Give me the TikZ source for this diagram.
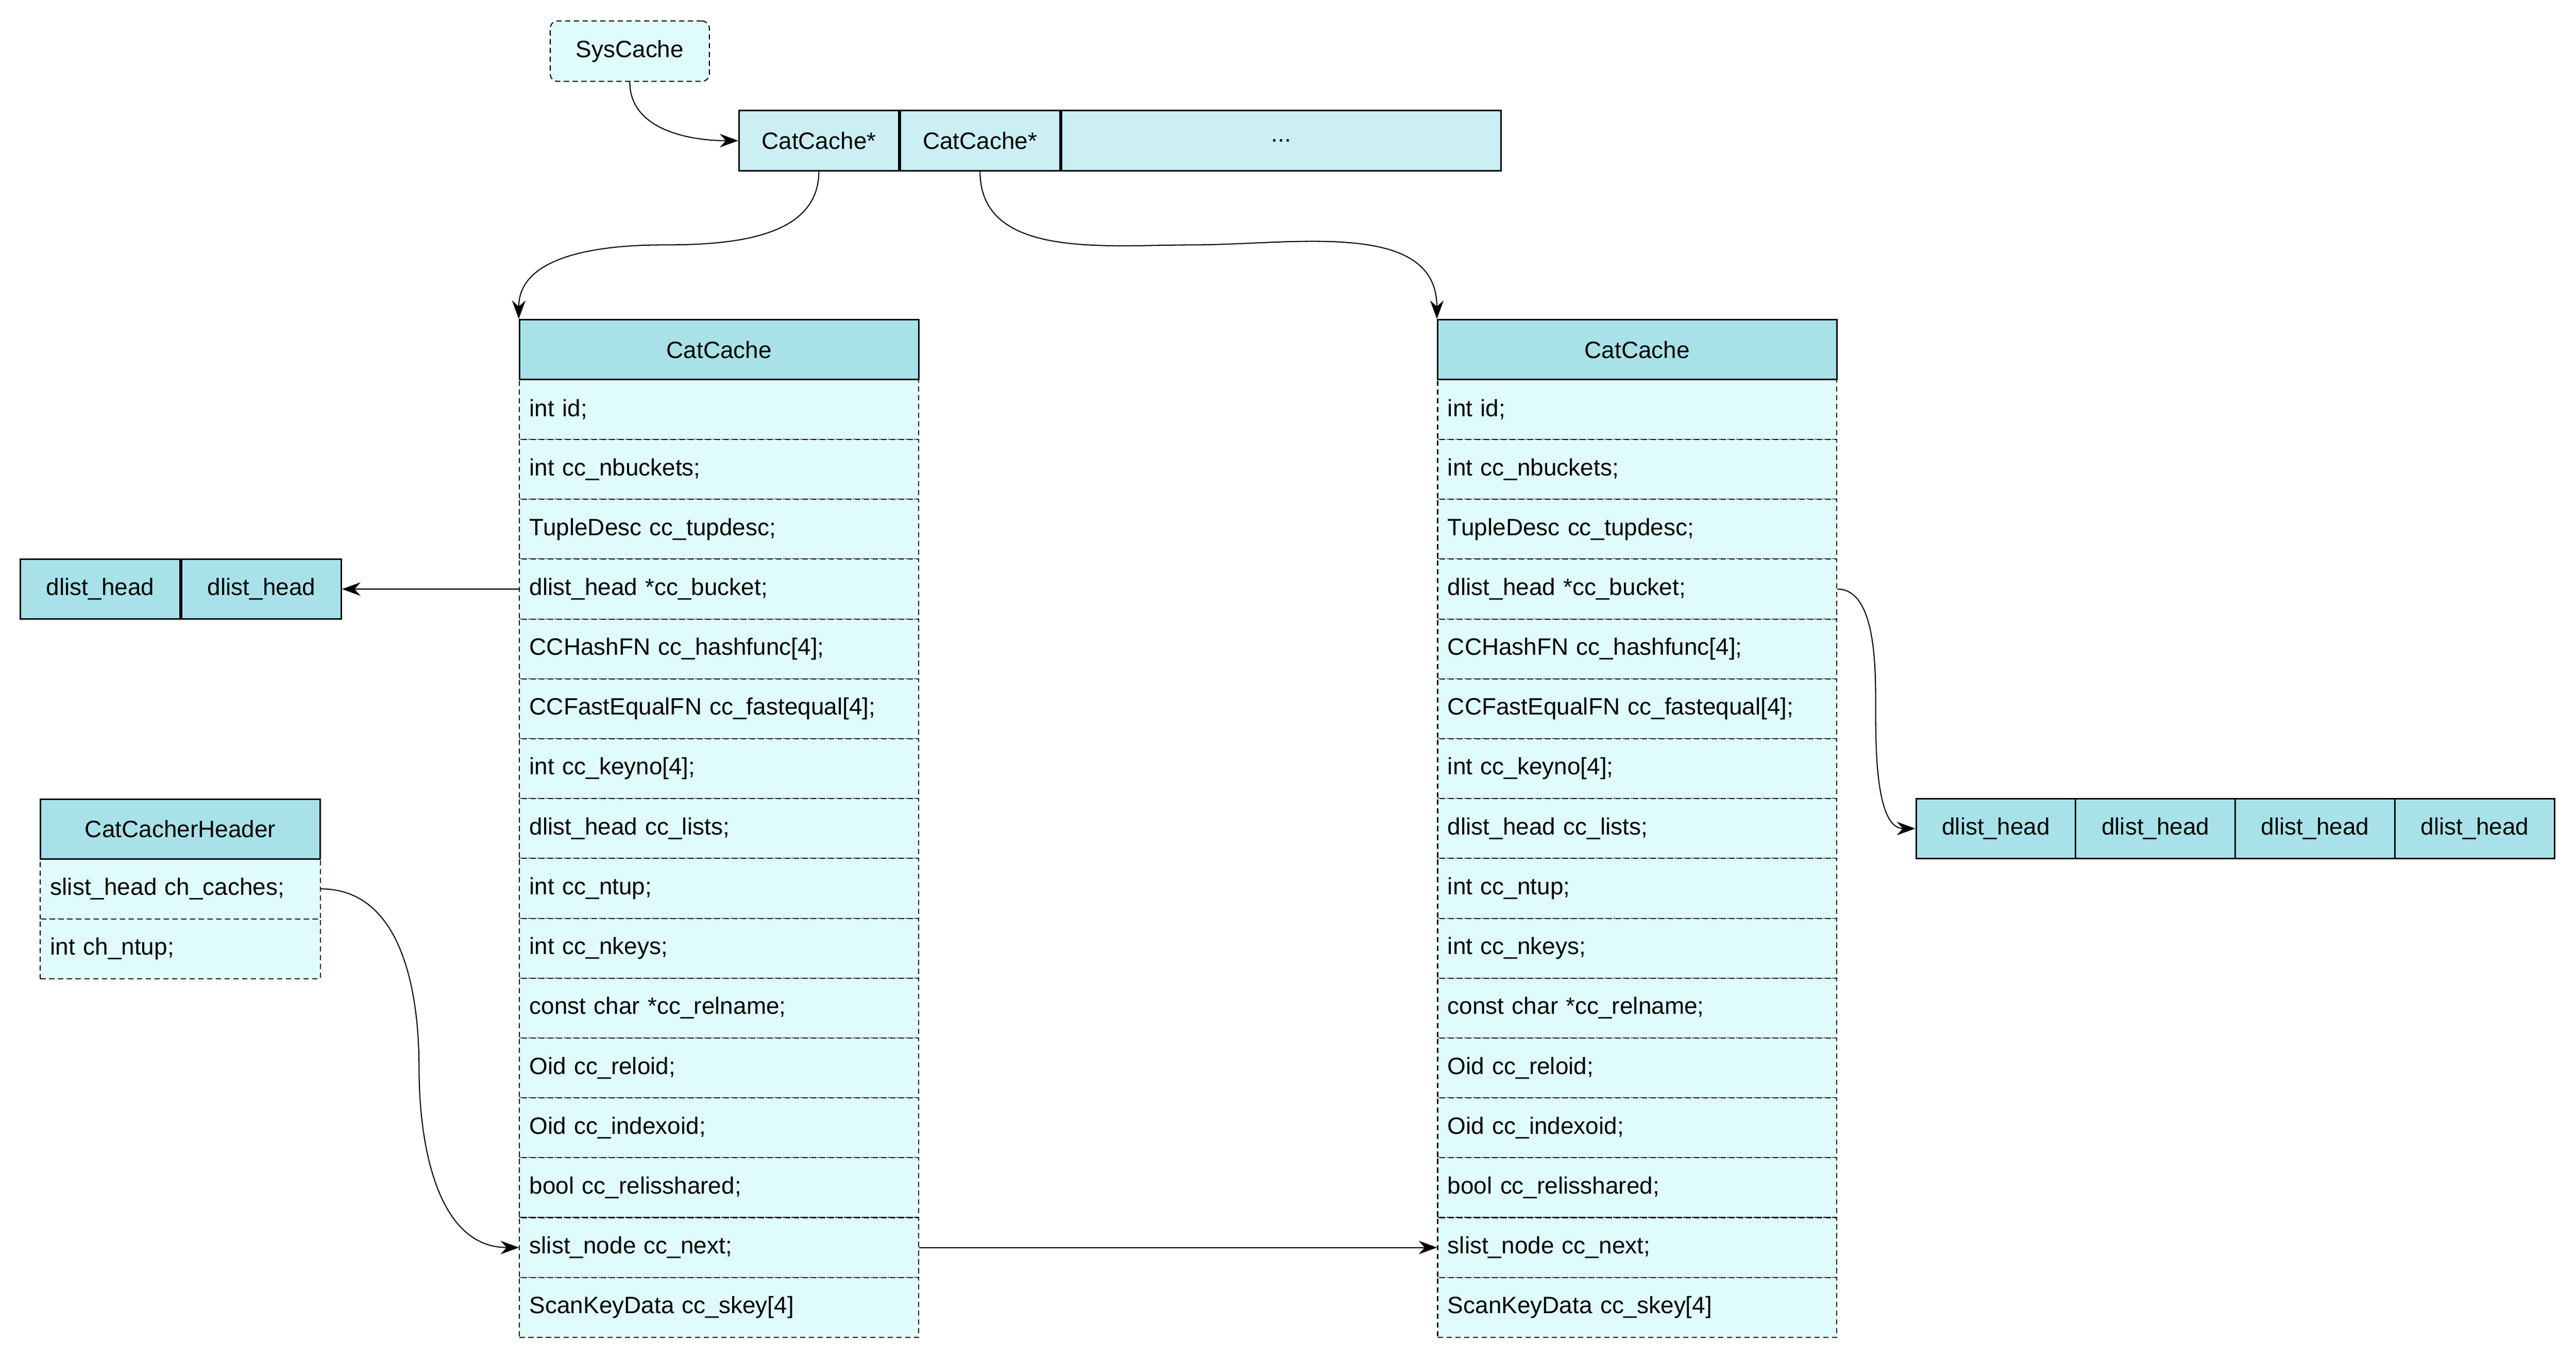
\documentclass[tikz,border=0pt]{standalone}
\usepackage{fontspec}
\setmainfont{Liberation Sans}
\usetikzlibrary{arrows.meta,positioning}
\definecolor{hdcol}{HTML}{A8E2E8}
\definecolor{rowcol}{HTML}{E0FBFB}
\definecolor{arrcol}{HTML}{CBEFF3}
\tikzset{
  hd/.style={draw,line width=0.9pt,fill=hdcol,minimum height=1.2cm,inner sep=0pt},
  fld/.style={draw,line width=0.6pt,dash pattern=on 3pt off 2pt,fill=rowcol,minimum height=1.2cm,
    text width=#1,align=left,inner xsep=0.2cm,inner ysep=0pt},
  cell/.style={draw,line width=0.9pt,fill=#1,minimum height=1.2cm,inner sep=0pt},
  link/.style={-{Stealth[length=0.37cm,width=0.27cm]},line width=0.6pt}
}

\begin{document}
\begin{tikzpicture}[font=\fontsize{13.5}{16}\selectfont]
\useasboundingbox (0,0) rectangle (51.64,-27.24);
\node[draw,line width=0.6pt,dash pattern=on 3pt off 2pt,rounded corners=0.15cm,fill=rowcol,
  minimum width=3.19cm,minimum height=1.21cm] (sys) at (12.625,-1.025) {SysCache};
\node[cell=arrcol,minimum width=3.2cm] (p1) at (16.415,-2.82) {CatCache*};
\node[cell=arrcol,minimum width=3.2cm,right=0pt of p1] (p2) {CatCache*};
\node[cell=arrcol,minimum width=8.81cm,right=0pt of p2] (p3) {...};
% the two CatCache structs
\foreach \side/\x in {L/14.415,R/32.82}{
  \foreach \f [count=\i] in {{int id;},{int cc\_nbuckets;},{TupleDesc cc\_tupdesc;},
      {dlist\_head *cc\_bucket;},{CCHashFN cc\_hashfunc[4];},{CCFastEqualFN cc\_fastequal[4];},
      {int cc\_keyno[4];},{dlist\_head cc\_lists;},{int cc\_ntup;},{int cc\_nkeys;},
      {const char *cc\_relname;},{Oid cc\_reloid;},{Oid cc\_indexoid;},
      {bool cc\_relisshared;},{slist\_node cc\_next;},{ScanKeyData cc\_skey[4]}}
    \node[fld=7.6cm] (\side\i) at (\x,-7.01-1.2*\i) {\f};
  \node[hd,minimum width=8cm] (\side0) at (\x,-7.01) {CatCache};
}
% bucket arrays
\node[cell=hdcol,minimum width=3.2cm] (ld1) at (2.01,-11.81) {dlist\_head};
\node[cell=hdcol,minimum width=3.2cm,right=0pt of ld1] (ld2) {dlist\_head};
\foreach \i in {1,...,4}
  \node[cell=hdcol,minimum width=3.2cm] (rd\i) at (40.01+3.2*\i-3.2,-16.61) {dlist\_head};
% CatCacherHeader
\node[fld=5.21cm] (H1) at (3.615,-17.82) {slist\_head ch\_caches;};
\node[fld=5.21cm] (H2) at (3.615,-19.02) {int ch\_ntup;};
\node[hd,minimum width=5.61cm] (H0) at (3.615,-16.62) {CatCacherHeader};
% connectors
\coordinate (m1) at (13.3,-4.91);
\coordinate (m2) at (23.9,-4.91);
\coordinate (m3) at (37.6,-14.2);
\coordinate (m4) at (8.4,-21.4);
\draw[link] (sys.south) to[out=-90,in=180] (p1.west);
\draw[link] (p1.south) to[out=-90,in=0] (m1) to[out=180,in=90] (L0.north west);
\draw[link] (p2.south) to[out=-90,in=180] (m2) to[out=0,in=90] (R0.north west);
\draw[link] (L4.west) -- (ld2.east);
\draw[link] (R4.east) to[out=0,in=90,looseness=0.8] (m3) to[out=-90,in=180,looseness=0.8] (rd1.west);
\draw[link] (H1.east) to[out=0,in=90] (m4) to[out=-90,in=180] (L15.west);
\draw[link] (L15.east) -- (R15.west);
\end{tikzpicture}
\end{document}
